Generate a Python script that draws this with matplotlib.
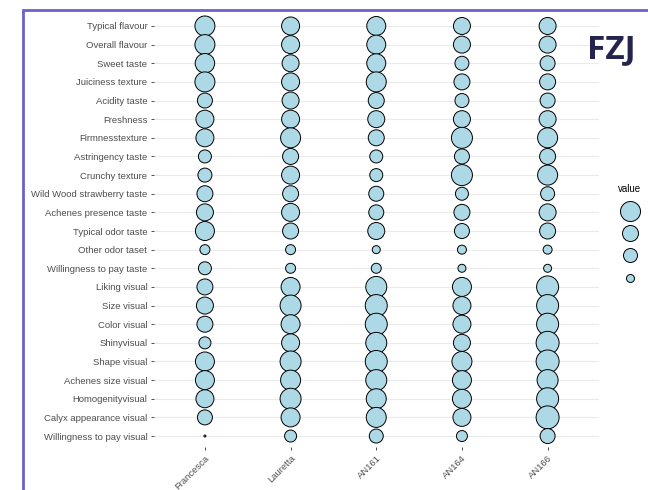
import matplotlib
matplotlib.use("Agg")
import numpy as np
from matplotlib import pyplot as plt
from matplotlib.lines import Line2D
from matplotlib.patches import Rectangle

attributes = [
    "Typical flavour", "Overall flavour", "Sweet taste", "Juiciness texture",
    "Acidity taste", "Freshness", "Firmnesstexture", "Astringency taste",
    "Crunchy texture", "Wild Wood strawberry taste", "Achenes presence taste",
    "Typical odor taste", "Other odor taset", "Willingness to pay taste",
    "Liking visual", "Size visual", "Color visual", "Shinyvisual",
    "Shape visual", "Achenes size visual", "Homogenityvisual",
    "Calyx appearance visual", "Willingness to pay visual",
]
varieties = ["Francesca", "Lauretta", "AN161", "AN164", "AN166"]

francesca = [8.0, 8.0, 7.8, 8.0, 6.0, 7.2, 7.2, 5.2, 5.6, 6.4, 6.8, 7.6,
             4.0, 5.2, 6.4, 6.8, 6.4, 4.8, 7.6, 7.6, 7.2, 6.0, 0.8]
lauretta = [7.2, 7.2, 6.8, 7.2, 6.8, 7.2, 8.0, 6.4, 7.2, 6.4, 7.2, 6.4,
            4.0, 4.0, 7.6, 8.4, 7.6, 7.2, 8.4, 8.0, 8.4, 7.6, 4.8]
an161 = [7.6, 7.6, 7.6, 8.0, 6.4, 6.8, 6.4, 5.2, 5.2, 6.0, 6.0, 6.8,
         3.2, 4.0, 8.4, 8.8, 8.8, 8.4, 8.8, 8.4, 8.0, 8.0, 5.6]
an164 = [6.8, 6.8, 5.6, 6.4, 5.6, 6.8, 8.4, 6.0, 8.4, 5.2, 6.4, 6.0,
         3.6, 3.2, 7.6, 7.2, 7.2, 6.8, 8.0, 7.6, 7.6, 7.2, 4.4]
an166 = [6.8, 6.8, 6.0, 6.4, 6.0, 6.8, 8.0, 6.4, 8.0, 5.6, 6.8, 6.4,
         3.6, 3.2, 8.8, 8.8, 8.8, 9.2, 9.2, 8.4, 8.8, 9.2, 6.0]
legend_values = [8.0, 6.4, 5.6, 3.2]

columns = [francesca, lauretta, an161, an164, an166]


def marker_area(v):
    # diameter in px ~ 2.5 * value, converted to points^2
    d = np.asarray(v) * 2.5 * 0.72
    return d ** 2


fig = plt.figure(figsize=(6.48, 4.90), dpi=100)
ax = fig.add_axes([0.2369, 0.0873, 0.6875, 0.8825])

n = len(attributes)
ypos = np.arange(n)[::-1]
for i, vals in enumerate(columns):
    ax.scatter(np.full(n, i), ypos, s=marker_area(vals), c="#add8e6",
               edgecolors="black", linewidths=0.7, zorder=3)

ax.set_xlim(-0.6, len(varieties) - 0.4)
ax.set_ylim(-0.6, n - 0.4)
ax.set_xticks(range(len(varieties)))
ax.set_xticklabels(varieties, rotation=45, ha="right", va="top",
                   rotation_mode="anchor")
ax.set_yticks(ypos)
ax.set_yticklabels(attributes)
ax.tick_params(axis="both", labelsize=6.8, labelcolor="#4d4d4d",
               color="#333333", length=2.5, width=0.6, pad=2)
ax.grid(axis="y", color="#ebebeb", linewidth=0.8, zorder=0)
for sp in ax.spines.values():
    sp.set_visible(False)
for t in ax.get_xticklabels() + ax.get_yticklabels():
    t.set_family("Liberation Sans")

# size legend: only the keys are visible, as in the original
handles = [Line2D([], [], marker="o", linestyle="none", markersize=np.sqrt(a),
                  markerfacecolor="#add8e6", markeredgecolor="black",
                  markeredgewidth=0.7)
           for a in marker_area(legend_values)]
leg = fig.legend(handles, [""] * len(handles), title="value",
                 loc="upper center", bbox_to_anchor=(630 / 648, 1 - 178 / 490),
                 frameon=False, handletextpad=0, handlelength=1.2,
                 labelspacing=1.45, borderpad=0.2,
                 prop={"family": "Liberation Sans", "size": 6.5},
                 title_fontproperties={"family": "Liberation Sans", "size": 7})

fig.text(0.9065, 0.898, "FZJ", fontsize=24, fontweight="bold",
         family="Open Sans", color="#25244f", ha="left", va="center")

fig.patches.append(Rectangle((23 / 648, -0.1), 1.2, 1 - 10 / 490 + 0.1,
                             transform=fig.transFigure, fill=False,
                             edgecolor="#6b63c9", linewidth=2))

fig.savefig("out.png", dpi=100)
